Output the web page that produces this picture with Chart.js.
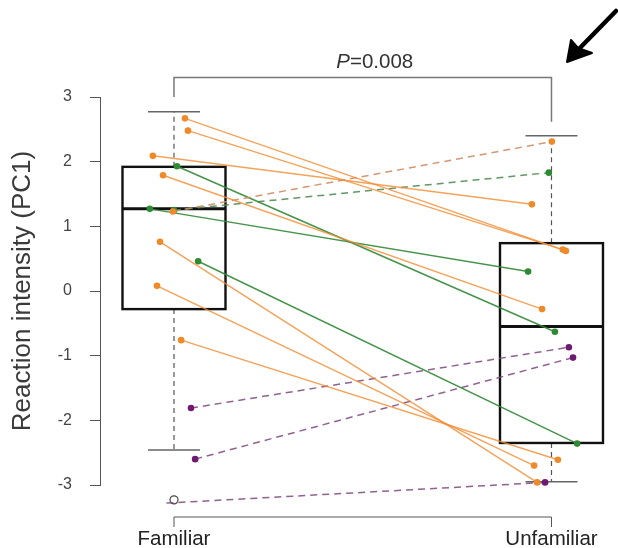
<!DOCTYPE html>
<html>
<head>
<meta charset="utf-8">
<script src="https://cdn.jsdelivr.net/npm/chart.js@4/dist/chart.umd.min.js"></script>
<style>
  html, body { margin: 0; padding: 0; background: #ffffff; }
  #wrap { width: 618px; height: 548px; position: relative; }
</style>
</head>
<body>
<div id="wrap"><canvas id="c"></canvas></div>
<script>
// ---------- data ----------
const categories = ['Familiar', 'Unfamiliar'];
const yTicks = [-3, -2, -1, 0, 1, 2, 3];
const pValueLabel = '=0.008';

// paired individuals: value in familiar / unfamiliar condition
const familiarValues   = [2.67, 2.48, 2.09, 1.79, 1.23, 0.76, 0.08, -0.76, 1.93, 1.27, 0.46, 1.25, -1.81, -2.60, -3.28];
const unfamiliarValues = [0.62, 0.64, 1.34, -0.28, 2.31, -2.96, -2.70, -2.61, -0.63, 0.30, -2.36, 1.83, -0.87, -1.03, -2.96];
const groups = ['orange','orange','orange','orange','orange','orange','orange','orange',
                'green','green','green','green','purple','purple','purple'];
const dashedPairs = [false,false,false,false,true,false,false,false,false,false,false,true,true,true,true];
// horizontal jitter of the dots (category units)
const familiarJitter   = [0.029, 0.037, -0.056, -0.029, -0.003, -0.037, -0.045, 0.019, 0.008, -0.064, 0.064, 0.000, 0.045, 0.056, -0.020];
const unfamiliarJitter = [0.038, 0.030, -0.052, -0.025, 0.001, -0.038, -0.046, 0.017, 0.009, -0.062, 0.068, -0.007, 0.046, 0.057, -0.017];

// box plot statistics: [lower whisker, Q1, median, Q3, upper whisker]
const boxFamiliar   = [-2.46, -0.28, 1.27, 1.92, 2.77];
const boxUnfamiliar = [-2.95, -2.35, -0.55, 0.74, 2.40];
const outliersFamiliar = [-3.23];
const outliersUnfamiliar = [];

// ---------- styles ----------
const lineColors  = { orange: 'rgba(240,140,50,0.8)', green: 'rgba(50,135,55,0.9)', purple: 'rgba(125,60,125,0.85)' };
const dashColors  = { orange: 'rgba(205,140,100,0.9)', green: 'rgba(80,140,85,0.9)', purple: 'rgba(125,70,125,0.85)' };
const pointColors = { orange: '#ef8a2a', green: '#2f8a34', purple: '#6e1a70' };
const FONT = '"Liberation Sans", Arial, Helvetica, sans-serif';

const datasets = familiarValues.map((fv, i) => {
  const g = groups[i];
  return {
    type: 'line',
    data: [
      { x: 1 + familiarJitter[i], y: fv },
      { x: 2 + unfamiliarJitter[i], y: unfamiliarValues[i] }
    ],
    borderColor: dashedPairs[i] ? dashColors[g] : lineColors[g],
    borderWidth: 1.5,
    borderDash: dashedPairs[i] ? [7, 5] : [],
    pointRadius: 3.3,
    pointBackgroundColor: pointColors[g],
    pointBorderWidth: 0,
    tension: 0,
    clip: false,
    fill: false
  };
});

const boxPlugin = {
  id: 'boxes',
  beforeDatasetsDraw(chart) {
    const ctx = chart.ctx, xs = chart.scales.x, ys = chart.scales.y;
    const boxes = [boxFamiliar, boxUnfamiliar];
    const outs = [outliersFamiliar, outliersUnfamiliar];
    boxes.forEach((b, k) => {
      const cx = xs.getPixelForValue(k + 1);
      const half = 51.5, capHalf = 26;
      const yLo = ys.getPixelForValue(b[0]), yQ1 = ys.getPixelForValue(b[1]),
            yMed = ys.getPixelForValue(b[2]), yQ3 = ys.getPixelForValue(b[3]),
            yHi = ys.getPixelForValue(b[4]);
      ctx.save();
      // whiskers
      ctx.strokeStyle = '#555';
      ctx.lineWidth = 1.2;
      ctx.setLineDash([5, 4]);
      ctx.beginPath();
      ctx.moveTo(cx, yQ3); ctx.lineTo(cx, yHi);
      ctx.moveTo(cx, yQ1); ctx.lineTo(cx, yLo);
      ctx.stroke();
      ctx.setLineDash([]);
      ctx.strokeStyle = '#666';
      ctx.lineWidth = 1.5;
      ctx.beginPath();
      ctx.moveTo(cx - capHalf, yHi); ctx.lineTo(cx + capHalf, yHi);
      ctx.moveTo(cx - capHalf, yLo); ctx.lineTo(cx + capHalf, yLo);
      ctx.stroke();
      // box
      ctx.strokeStyle = '#111';
      ctx.lineWidth = 2.4;
      ctx.strokeRect(cx - half, yQ3, 2 * half, yQ1 - yQ3);
      ctx.lineWidth = 3;
      ctx.beginPath();
      ctx.moveTo(cx - half, yMed); ctx.lineTo(cx + half, yMed);
      ctx.stroke();
      // outliers
      ctx.lineWidth = 1.2;
      ctx.strokeStyle = '#444';
      ctx.fillStyle = '#fff';
      outs[k].forEach(v => {
        ctx.beginPath();
        ctx.arc(cx, ys.getPixelForValue(v), 4, 0, Math.PI * 2);
        ctx.fill();
        ctx.stroke();
      });
      ctx.restore();
    });
  },
  afterDraw(chart) {
    const ctx = chart.ctx, xs = chart.scales.x, ys = chart.scales.y, ca = chart.chartArea;
    const x1 = xs.getPixelForValue(1), x2 = xs.getPixelForValue(2);
    ctx.save();
    // bottom axis (R style)
    const axY = ca.bottom + 32;
    ctx.strokeStyle = '#555';
    ctx.lineWidth = 1;
    ctx.beginPath();
    ctx.moveTo(x1, axY); ctx.lineTo(x2, axY);
    ctx.moveTo(x1, axY); ctx.lineTo(x1, axY + 10);
    ctx.moveTo(x2, axY); ctx.lineTo(x2, axY + 10);
    ctx.stroke();
    ctx.fillStyle = '#222';
    ctx.font = '20.5px ' + FONT;
    ctx.textAlign = 'center';
    ctx.textBaseline = 'middle';
    ctx.fillText(categories[0], x1, axY + 22);
    ctx.fillText(categories[1], x2, axY + 22);

    // significance bracket
    const bY = ca.top - 19.5;
    ctx.strokeStyle = '#777';
    ctx.lineWidth = 1.5;
    ctx.beginPath();
    ctx.moveTo(x1, ca.top); ctx.lineTo(x1, bY); ctx.lineTo(x2, bY);
    ctx.lineTo(x2, ys.getPixelForValue(boxUnfamiliar[4]) - 14);
    ctx.stroke();
    // P value text
    ctx.fillStyle = '#333';
    ctx.textBaseline = 'alphabetic';
    ctx.textAlign = 'left';
    ctx.font = 'italic 20.5px ' + FONT;
    const wP = ctx.measureText('P').width;
    ctx.font = '20.5px ' + FONT;
    const wR = ctx.measureText(pValueLabel).width;
    const startX = (x1 + x2) / 2 + 12 - (wP + wR) / 2;
    ctx.font = 'italic 20.5px ' + FONT;
    ctx.fillText('P', startX, bY - 10);
    ctx.font = '20.5px ' + FONT;
    ctx.fillText(pValueLabel, startX + wP, bY - 10);

    // arrow annotation
    ctx.strokeStyle = '#000';
    ctx.fillStyle = '#000';
    ctx.lineWidth = 4.5;
    ctx.lineCap = 'round';
    ctx.beginPath();
    ctx.moveTo(616, 11); ctx.lineTo(575, 53);
    ctx.stroke();
    ctx.beginPath();
    ctx.moveTo(567, 62);
    ctx.lineTo(571, 40);
    ctx.lineTo(578, 48);
    ctx.lineTo(592, 53);
    ctx.closePath();
    ctx.fill();
    ctx.lineWidth = 2;
    ctx.lineJoin = 'round';
    ctx.stroke();
    ctx.restore();
  }
};

new Chart(document.getElementById('c'), {
  type: 'line',
  data: { datasets },
  options: {
    responsive: true,
    maintainAspectRatio: false,
    animation: false,
    layout: { padding: { top: 97, bottom: 63, left: 0, right: 8 } },
    plugins: { legend: { display: false }, tooltip: { enabled: false } },
    scales: {
      x: { type: 'linear', min: 0.804, max: 2.155, display: false },
      y: {
        type: 'linear', min: -3, max: 3,
        afterBuildTicks: (s) => { s.ticks = yTicks.map(v => ({ value: v })); },
        afterFit: (s) => { s.width = 100; },
        ticks: { color: '#444', font: { size: 16, family: FONT }, padding: 18 },
        grid: { drawOnChartArea: false, drawTicks: true, tickLength: 10, color: '#555' },
        border: { display: true, color: '#555', width: 1 },
        title: { display: true, text: 'Reaction intensity (PC1)', color: '#3a3a3a',
                 font: { size: 26, family: FONT }, padding: { top: 7, bottom: 0 } }
      }
    }
  },
  plugins: [boxPlugin]
});
</script>
</body>
</html>
